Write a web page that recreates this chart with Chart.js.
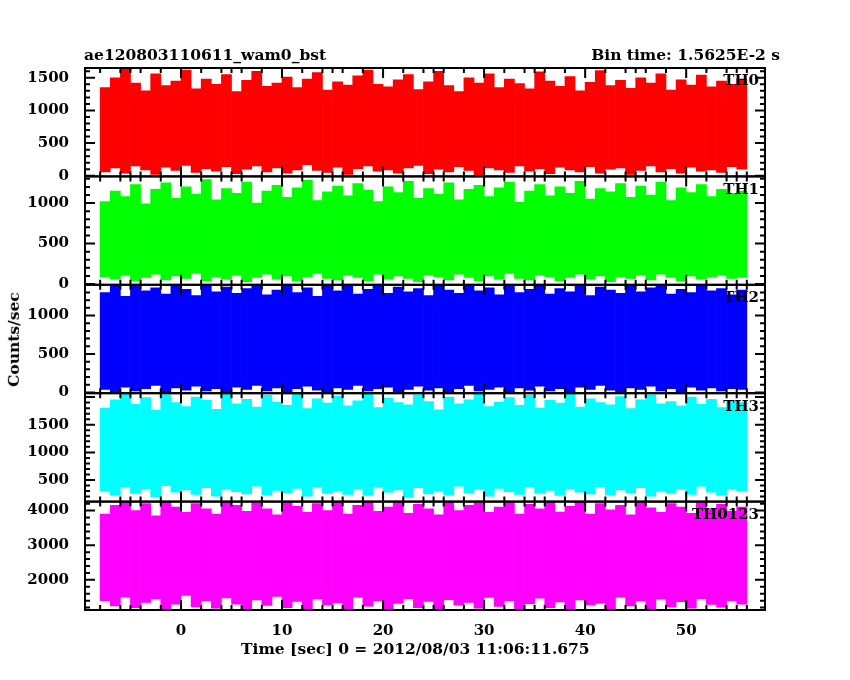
<!DOCTYPE html>
<html><head><meta charset="utf-8">
<script src="https://cdn.jsdelivr.net/npm/chart.js@4/dist/chart.umd.min.js"></script>
<style>
body{margin:0;background:#fff;width:850px;height:680px;overflow:hidden;position:relative;font-family:"DejaVu Serif",serif;}
.t{position:absolute;font-weight:bold;font-size:15.5px;color:#000;white-space:nowrap;}
</style></head><body>
<canvas id="c" width="850" height="680" style="position:absolute;left:0;top:0;width:850px;height:680px"></canvas>
<div class="t" style="left:84px;top:45px">ae120803110611_wam0_bst</div>
<div class="t" style="right:70px;top:45px">Bin time: 1.5625E-2 s</div>
<div class="t" style="left:241px;top:639px">Time [sec] 0 = 2012/08/03 11:06:11.675</div>
<div class="t" style="left:-34px;top:330px;transform:rotate(-90deg)">Counts/sec</div>
<script>
const binStart = [-8,-7,-6,-5,-4,-3,-2,-1,0,1,2,3,4,5,6,7,8,9,10,11,12,13,14,15,16,17,18,19,20,21,22,23,24,25,26,27,28,29,30,31,32,33,34,35,36,37,38,39,40,41,42,43,44,45,46,47,48,49,50,51,52,53,54,55];
const panelNames = ["TH0","TH1","TH2","TH3","TH0123"];
const colors = ["#ff0000","#00ff00","#0000ff","#00ffff","#ff00ff"];
const th0Hi = [1350,1500,1640,1420,1300,1560,1380,1450,1620,1330,1480,1400,1550,1290,1460,1600,1370,1420,1510,1350,1480,1580,1310,1440,1390,1530,1620,1400,1360,1470,1550,1320,1440,1600,1380,1290,1500,1420,1560,1350,1480,1410,1330,1590,1450,1370,1520,1300,1430,1610,1380,1460,1340,1500,1420,1560,1310,1470,1390,1540,1360,1450,1400,1480];
const th0Lo = [60,120,40,150,90,20,130,80,160,50,110,70,140,30,100,150,60,120,40,90,170,80,50,130,20,110,150,70,90,40,120,160,30,100,60,140,80,10,120,90,50,150,70,110,30,130,90,60,140,40,100,120,20,80,150,60,110,40,130,70,90,50,140,100];
const th1Hi = [1020,1150,1080,1230,990,1170,1250,1060,1200,1110,1290,1040,1180,1120,1260,1000,1150,1220,1070,1190,1280,1030,1140,1210,1090,1240,1160,1020,1200,1130,1270,1060,1180,1110,1250,1040,1170,1220,1080,1190,1260,1010,1150,1230,1090,1200,1120,1270,1050,1180,1140,1240,1070,1210,1100,1260,1030,1190,1130,1230,1080,1170,1120,1150];
const th1Lo = [90,60,110,40,80,120,50,100,70,130,40,90,60,110,30,80,120,60,100,40,90,130,70,50,110,80,40,120,60,100,70,30,110,90,50,120,80,40,100,60,130,70,50,110,90,40,80,120,60,100,30,90,70,110,50,120,80,40,100,60,90,110,70,80];
const th2Hi = [1300,1380,1250,1400,1320,1360,1280,1390,1340,1260,1400,1310,1370,1290,1350,1400,1270,1330,1390,1300,1360,1250,1400,1320,1380,1280,1340,1400,1290,1370,1310,1350,1260,1400,1330,1290,1380,1320,1360,1270,1400,1300,1340,1390,1280,1350,1310,1400,1260,1370,1330,1290,1380,1310,1360,1400,1280,1340,1300,1390,1320,1350,1270,1330];
const th2Lo = [40,10,70,20,50,90,10,60,30,80,20,50,10,70,40,90,20,60,10,50,80,30,10,60,40,90,20,50,70,10,40,80,30,60,10,50,90,20,40,70,10,60,30,80,20,50,10,70,40,90,30,10,60,40,80,20,50,10,70,30,60,20,50,40];
const th3Hi = [1800,1950,2050,1870,1990,1760,2040,1900,1830,2000,1940,1780,2050,1880,1960,1820,2030,1910,1850,2050,1790,1970,1890,2020,1840,1930,2050,1810,1980,1900,1860,2040,1920,1770,2000,1880,1950,2050,1830,1910,1990,1850,2030,1800,1940,1890,2050,1820,1970,1900,1860,2010,1790,1950,2040,1880,1920,1840,2000,1870,1960,1810,1930,1900];
const th3Lo = [300,220,380,260,340,200,400,280,320,240,360,210,330,290,250,390,230,310,270,350,210,380,260,300,240,340,220,370,280,320,200,360,250,300,230,390,270,330,210,350,290,240,380,260,310,220,340,280,250,370,230,320,270,360,210,300,260,340,240,390,280,220,330,300];
const th0123Hi = [3900,4150,4250,4000,4200,3850,4250,4100,3950,4200,4050,3900,4250,4150,3980,4220,4050,3880,4250,4120,3950,4200,4000,4250,3900,4150,4230,3980,4100,4250,3920,4180,4050,3880,4250,4000,4150,4220,3950,4100,4250,3900,4180,4050,4230,3960,4120,4250,3900,4200,4020,4150,3880,4250,4080,3950,4200,4100,3920,4230,4050,4180,3980,4100];
const th0123Lo = [1400,1250,1500,1200,1350,1450,1150,1300,1550,1220,1400,1180,1480,1300,1160,1420,1260,1520,1200,1380,1150,1450,1280,1340,1170,1500,1240,1400,1160,1320,1460,1200,1380,1150,1430,1270,1350,1180,1490,1230,1400,1160,1310,1470,1200,1360,1150,1420,1280,1330,1170,1500,1250,1390,1160,1440,1220,1370,1180,1460,1290,1210,1400,1300];
const yTicks = [[0,500,1000,1500],[0,500,1000],[0,500,1000],[500,1000,1500],[2000,3000,4000]];
const yMinor = [100,100,100,100,200];
const yRange = [[-10,1650],[-10,1330],[-10,1400],[110,2070],[1130,4260]];
const xTicks = [0,10,20,30,40,50];
const hiArr=[th0Hi,th1Hi,th2Hi,th3Hi,th0123Hi], loArr=[th0Lo,th1Lo,th2Lo,th3Lo,th0123Lo];
const FONT={family:'DejaVu Serif',size:15,weight:'bold'};

const datasets = panelNames.map((n,i)=>({
  label:n, yAxisID:'y'+i, backgroundColor:colors[i], borderWidth:0,
  barPercentage:1, categoryPercentage:1, grouped:false,
  data: binStart.map((x,k)=>({x:x+0.5, y:[loArr[i][k], hiArr[i][k]]}))
}));
const scales = {
  x:{type:'linear',offset:false,min:-9.5,max:57.8,grid:{display:false,offset:false},border:{display:false},
     afterBuildTicks:s=>{s.ticks=xTicks.map(v=>({value:v}));},
     afterFit:s=>{s.height=70;},
     ticks:{color:'#000',font:FONT,padding:4,maxRotation:0,autoSkip:false,callback:v=>String(v)}}
};
for(let j=4;j>=0;j--){
  const i=j;
  scales['y'+i]={type:'linear',stack:'p',stackWeight:1,offset:false,position:'left',
    min:yRange[i][0],max:yRange[i][1],grid:{display:false},border:{display:false},
    afterBuildTicks:s=>{s.ticks=yTicks[i].map(v=>({value:v}));},
    afterFit:s=>{s.width=85;},
    ticks:{color:'#000',font:FONT,padding:8,autoSkip:false,callback:v=>String(v)}};
}
const frame={id:'frame',afterDatasetsDraw(ch){
  const c=ch.ctx,a=ch.chartArea,xs=ch.scales.x;
  c.save();c.strokeStyle='#000';c.lineWidth=2;c.fillStyle='#000';
  c.font='bold 15px "DejaVu Serif"';c.textAlign='right';c.textBaseline='top';
  for(let i=0;i<5;i++){
    const s=ch.scales['y'+i];
    c.strokeRect(a.left,s.top,a.right-a.left,s.bottom-s.top);
    for(let v=Math.ceil(yRange[i][0]/yMinor[i])*yMinor[i]; v<=yRange[i][1]; v+=yMinor[i]){
      const y=s.getPixelForValue(v), major=(v%500===0&&i<4)||(v%1000===0);
      const L=major?10:5;
      c.beginPath();c.moveTo(a.left,y);c.lineTo(a.left+L,y);c.moveTo(a.right,y);c.lineTo(a.right-L,y);c.stroke();
    }
    for(let v=-9; v<=57; v+=1){
      if(v%2!==0 && v%5!==0) continue;
      const x=xs.getPixelForValue(v), L=v%10===0?10:5;
      c.beginPath();c.moveTo(x,s.bottom);c.lineTo(x,s.bottom-L);c.moveTo(x,s.top);c.lineTo(x,s.top+L);c.stroke();
    }
    c.fillText(panelNames[i],a.right-6,s.top+6);
  }
  c.restore();
}};
new Chart(document.getElementById('c'),{type:'bar',data:{datasets},
  options:{responsive:false,animation:false,devicePixelRatio:1,
    layout:{padding:{left:0,right:85,top:68,bottom:0}},
    plugins:{legend:{display:false},tooltip:{enabled:false}},scales},
  plugins:[frame]});
</script></body></html>
